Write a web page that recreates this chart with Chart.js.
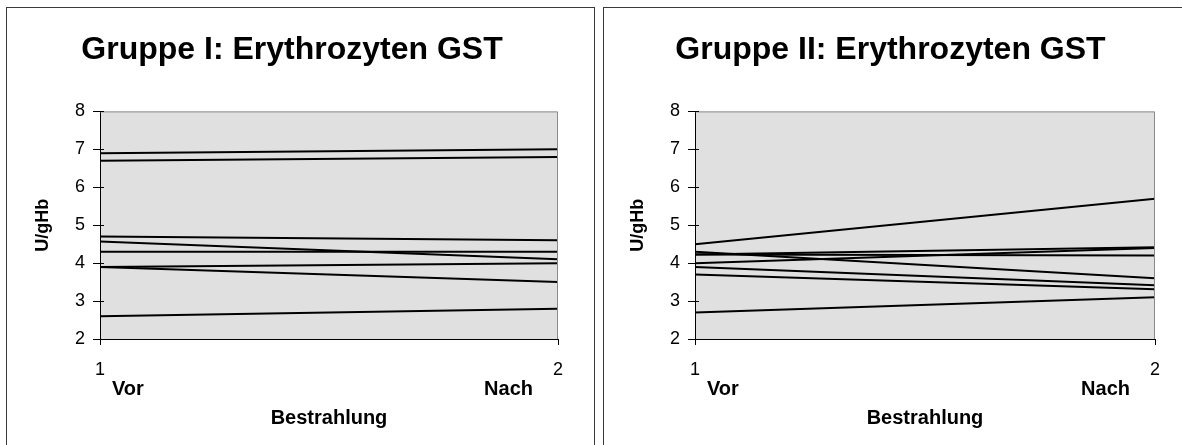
<!DOCTYPE html>
<html>
<head>
<meta charset="utf-8">
<script src="https://cdn.jsdelivr.net/npm/chart.js@4.4.1/dist/chart.umd.min.js"></script>
<style>
  html, body { margin: 0; padding: 0; background: #fff; overflow: hidden; }
  .panel { position: absolute; top: 7px; height: 460px; border: 1px solid #3a3a3a; background: #fff; }
  #panel1 { left: 6px; width: 587px; }
  #panel2 { left: 603px; width: 600px; }
  canvas { display: block; }
</style>
</head>
<body>
<div class="panel" id="panel1"><canvas id="chart1" width="587" height="437"></canvas></div>
<div class="panel" id="panel2"><canvas id="chart2" width="587" height="437"></canvas></div>
<script>
// values (U/gHb), one entry per subject
const xTicks = [1, 2];
const xLabels = ['Vor', 'Nach'];

const group1Vor  = [6.9, 6.7, 4.7, 4.57, 4.3, 3.9, 3.9, 2.6];
const group1Nach = [7.0, 6.8, 4.6, 4.1, 4.3, 4.0, 3.5, 2.8];

const group2Vor  = [4.5, 4.3, 4.23, 4.23, 4.0, 3.9, 3.7, 2.7];
const group2Nach = [5.7, 3.6, 4.42, 4.2, 4.4, 3.42, 3.31, 3.1];

const FONT = "'Liberation Sans', Arial, sans-serif";

/**
 * Plot area fill, gray top/right frame, crossing ticks and the Vor/Nach labels
 */
const plotDecor = {
  id: 'plotDecor',
  beforeDraw(chart) {
    const { ctx, chartArea: a } = chart;
    ctx.save();
    ctx.fillStyle = '#e0e0e0';
    ctx.fillRect(a.left, a.top, a.right - a.left, a.bottom - a.top);
    ctx.restore();
  },
  afterDraw(chart) {
    const { ctx, chartArea: a, scales } = chart;
    ctx.save();
    ctx.strokeStyle = '#8a8a8a';
    ctx.lineWidth = 1;
    ctx.beginPath();
    ctx.moveTo(a.left, a.top + 0.5);
    ctx.lineTo(a.right - 0.5, a.top + 0.5);
    ctx.lineTo(a.right - 0.5, a.bottom);
    ctx.stroke();

    // inner half of the crossing tick marks
    ctx.strokeStyle = '#000';
    ctx.beginPath();
    scales.y.ticks.forEach(t => {
      const y = Math.round(scales.y.getPixelForValue(t.value)) + 0.5;
      ctx.moveTo(a.left, y);
      ctx.lineTo(a.left + 4, y);
    });
    ctx.stroke();

    ctx.fillStyle = '#000';
    ctx.font = 'bold 20px ' + FONT;
    ctx.textBaseline = 'middle';
    const y = a.bottom + 50;
    ctx.textAlign = 'left';
    ctx.fillText(xLabels[0], scales.x.getPixelForValue(xTicks[0]) + 12, y);
    ctx.textAlign = 'right';
    ctx.fillText(xLabels[1], scales.x.getPixelForValue(xTicks[1]) - 25, y);
    ctx.restore();
  }
};

function buildChart(canvasId, title, vor, nach, padLeft, yWidth, yTitlePad) {
  const datasets = vor.map((v, i) => ({
    data: [
      { x: xTicks[0], y: v },
      { x: xTicks[1], y: nach[i] }
    ],
    borderColor: '#000',
    borderWidth: 2,
    pointRadius: 0,
    tension: 0,
    fill: false
  }));

  return new Chart(document.getElementById(canvasId), {
    type: 'line',
    data: { datasets },
    plugins: [plotDecor],
    options: {
      responsive: false,
      animation: false,
      devicePixelRatio: 1,
      layout: { padding: { left: padLeft, right: 36, top: 0, bottom: 0 } },
      plugins: {
        legend: { display: false },
        tooltip: { enabled: false },
        title: {
          display: true,
          text: title,
          color: '#000',
          font: { family: FONT, size: 32, weight: 'bold' },
          padding: { top: 23, bottom: 42 }
        }
      },
      scales: {
        x: {
          type: 'linear',
          min: 1,
          max: 2,
          afterFit: s => { s.height = 106; },
          border: { color: '#000', width: 1 },
          grid: { drawOnChartArea: false, color: '#000', tickLength: 6 },
          ticks: {
            stepSize: 1,
            autoSkip: false,
            color: '#000',
            padding: 14,
            font: { family: FONT, size: 18 }
          },
          title: {
            display: true,
            text: 'Bestrahlung',
            color: '#000',
            font: { family: FONT, size: 20, weight: 'bold' },
            padding: { top: 0, bottom: 15 }
          }
        },
        y: {
          min: 2,
          max: 8,
          afterFit: s => { s.width = yWidth; },
          border: { color: '#000', width: 1 },
          grid: { drawOnChartArea: false, color: '#000', tickLength: 7 },
          ticks: {
            stepSize: 1,
            color: '#000',
            padding: 8,
            font: { family: FONT, size: 18 }
          },
          title: {
            display: true,
            text: 'U/gHb',
            color: '#000',
            font: { family: FONT, size: 18, weight: 'bold' },
            padding: { top: yTitlePad, bottom: 0 }
          }
        }
      }
    }
  });
}

buildChart('chart1', 'Gruppe I: Erythrozyten GST', group1Vor, group1Nach, 19, 74, 6);
buildChart('chart2', 'Gruppe II: Erythrozyten GST', group2Vor, group2Nach, 22, 69, 1);
</script>
</body>
</html>
